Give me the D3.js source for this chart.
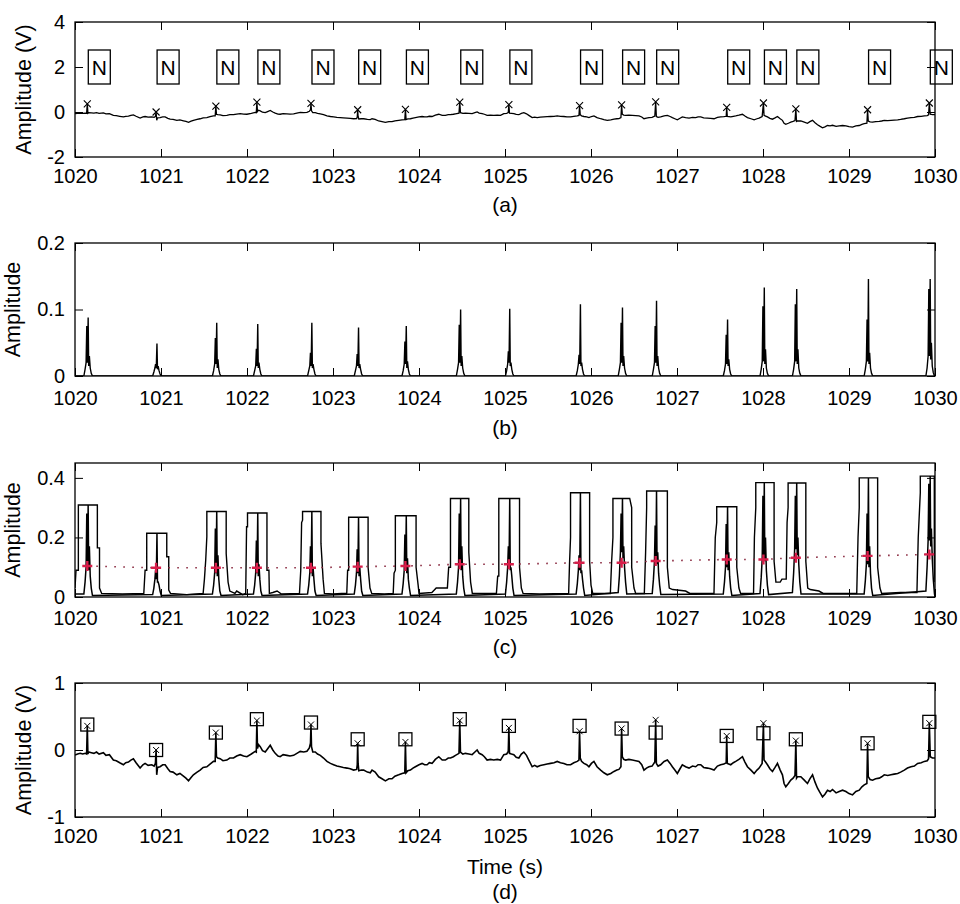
<!DOCTYPE html>
<html>
<head>
<meta charset="utf-8">
<script src="https://cdn.jsdelivr.net/npm/d3@7"></script>
<style>
  body { margin: 0; background: #fff; }
  svg { display: block; }
</style>
</head>
<body>
<svg id="chart" width="960" height="904"></svg>
<script>
// ---------- data ----------
const xTicks = [1020, 1021, 1022, 1023, 1024, 1025, 1026, 1027, 1028, 1029, 1030];
const yTicksA = [-2, 0, 2, 4];
const yTicksB = [0, 0.1, 0.2];
const yTicksC = [0, 0.2, 0.4];
const yTicksD = [-1, 0, 1];

// R-peak times (s) and beat annotations
const beatTimes = [1020.143, 1020.943, 1021.638, 1022.115, 1022.744, 1023.287, 1023.842, 1024.474,
  1025.045, 1025.867, 1026.356, 1026.752, 1027.578, 1028.005, 1028.382, 1029.216, 1029.934];
const beatLabels = ["N", "N", "N", "N", "N", "N", "N", "N", "N", "N", "N", "N", "N", "N", "N", "N", "N"];

// reference annotation amplitudes (V), panel (d) squares
const annotationValues = [0.38, 0.0, 0.26, 0.46, 0.41, 0.16, 0.16, 0.46, 0.36, 0.36, 0.32, 0.26,
  0.21, 0.25, 0.16, 0.10, 0.42];

// ECG samples [time s, amplitude V]
const ecgSamples = [
  [1020.000, -0.075], [1020.030, -0.06], [1020.060, -0.05], [1020.090, -0.06], [1020.120, -0.05],
  [1020.135, -0.06], [1020.143, 0.36], [1020.150, -0.06], [1020.160, -0.03], [1020.190, -0.04],
  [1020.220, -0.05], [1020.250, -0.03], [1020.280, -0.06], [1020.330, -0.04], [1020.360, -0.08],
  [1020.400, -0.07], [1020.446, -0.15], [1020.480, -0.16], [1020.520, -0.19], [1020.563, -0.22],
  [1020.590, -0.19], [1020.621, -0.18], [1020.650, -0.15], [1020.679, -0.13], [1020.710, -0.19],
  [1020.757, -0.27], [1020.790, -0.22], [1020.815, -0.20], [1020.850, -0.23], [1020.893, -0.22],
  [1020.920, -0.24], [1020.935, -0.20], [1020.943, 0.0], [1020.950, -0.37], [1020.960, -0.26],
  [1020.989, -0.25], [1021.020, -0.22], [1021.048, -0.22], [1021.080, -0.28], [1021.106, -0.32],
  [1021.140, -0.33], [1021.184, -0.37], [1021.220, -0.35], [1021.261, -0.39], [1021.290, -0.42],
  [1021.320, -0.46], [1021.350, -0.41], [1021.377, -0.37], [1021.420, -0.33], [1021.455, -0.30],
  [1021.490, -0.26], [1021.533, -0.25], [1021.570, -0.21], [1021.610, -0.17], [1021.630, -0.17],
  [1021.638, 0.26], [1021.645, -0.10], [1021.660, -0.12], [1021.688, -0.13], [1021.720, -0.16],
  [1021.766, -0.15], [1021.800, -0.12], [1021.843, -0.12], [1021.880, -0.09], [1021.921, -0.07],
  [1021.960, -0.09], [1021.999, -0.10], [1022.050, -0.06], [1022.095, -0.02], [1022.108, -0.03],
  [1022.115, 0.44], [1022.122, 0.02], [1022.135, 0.08], [1022.154, 0.05], [1022.180, -0.01],
  [1022.212, -0.03], [1022.240, 0.02], [1022.270, 0.07], [1022.300, 0.0], [1022.328, -0.05],
  [1022.360, -0.09], [1022.386, -0.10], [1022.420, -0.07], [1022.464, -0.08], [1022.500, -0.09],
  [1022.542, -0.08], [1022.580, -0.05], [1022.619, -0.02], [1022.660, -0.03], [1022.697, -0.02],
  [1022.725, 0.03], [1022.738, 0.10], [1022.744, 0.38], [1022.750, 0.05], [1022.765, -0.03],
  [1022.794, -0.03], [1022.820, -0.06], [1022.852, -0.08], [1022.890, -0.12], [1022.930, -0.17],
  [1022.970, -0.20], [1023.007, -0.22], [1023.045, -0.24], [1023.085, -0.25], [1023.120, -0.26],
  [1023.163, -0.27], [1023.200, -0.28], [1023.240, -0.30], [1023.275, -0.29], [1023.282, -0.22],
  [1023.287, 0.10], [1023.292, -0.20], [1023.300, -0.31], [1023.330, -0.30], [1023.357, -0.30],
  [1023.400, -0.33], [1023.434, -0.34], [1023.454, -0.30], [1023.490, -0.33], [1023.531, -0.40],
  [1023.570, -0.43], [1023.609, -0.46], [1023.650, -0.43], [1023.686, -0.43], [1023.720, -0.39],
  [1023.764, -0.37], [1023.803, -0.35], [1023.835, -0.34], [1023.842, 0.12], [1023.850, -0.34],
  [1023.870, -0.31], [1023.900, -0.30], [1023.930, -0.27], [1023.958, -0.25], [1024.000, -0.22],
  [1024.036, -0.20], [1024.065, -0.22], [1024.094, -0.22], [1024.120, -0.19], [1024.152, -0.20],
  [1024.190, -0.14], [1024.230, -0.10], [1024.270, -0.15], [1024.307, -0.15], [1024.340, -0.12],
  [1024.366, -0.12], [1024.400, -0.10], [1024.424, -0.08], [1024.465, -0.05], [1024.474, 0.44],
  [1024.482, -0.03], [1024.510, -0.06], [1024.540, -0.05], [1024.580, -0.06], [1024.618, -0.07],
  [1024.650, -0.03], [1024.676, 0.0], [1024.700, -0.05], [1024.734, -0.07], [1024.760, -0.10],
  [1024.792, -0.15], [1024.830, -0.14], [1024.870, -0.15], [1024.910, -0.14], [1024.948, -0.15],
  [1024.986, -0.07], [1025.020, -0.06], [1025.038, -0.02], [1025.045, 0.33], [1025.052, -0.05],
  [1025.075, -0.06], [1025.103, -0.07], [1025.130, -0.11], [1025.161, -0.12], [1025.190, -0.06],
  [1025.219, -0.03], [1025.250, -0.08], [1025.277, -0.15], [1025.316, -0.25], [1025.345, -0.23],
  [1025.374, -0.25], [1025.410, -0.23], [1025.452, -0.22], [1025.490, -0.21], [1025.530, -0.20],
  [1025.570, -0.19], [1025.607, -0.17], [1025.645, -0.19], [1025.685, -0.20], [1025.720, -0.22],
  [1025.763, -0.22], [1025.800, -0.19], [1025.840, -0.17], [1025.860, -0.15], [1025.867, 0.28],
  [1025.875, -0.12], [1025.890, -0.17], [1025.918, -0.20], [1025.950, -0.22], [1025.976, -0.25],
  [1026.005, -0.20], [1026.034, -0.17], [1026.070, -0.25], [1026.112, -0.30], [1026.150, -0.34],
  [1026.189, -0.37], [1026.230, -0.35], [1026.267, -0.32], [1026.300, -0.30], [1026.325, -0.29],
  [1026.348, -0.25], [1026.356, 0.32], [1026.364, -0.10], [1026.380, -0.14], [1026.403, -0.15],
  [1026.440, -0.14], [1026.480, -0.15], [1026.520, -0.16], [1026.558, -0.17], [1026.590, -0.22],
  [1026.616, -0.30], [1026.645, -0.27], [1026.674, -0.25], [1026.710, -0.24], [1026.742, -0.18],
  [1026.752, 0.45], [1026.760, -0.20], [1026.780, -0.24], [1026.810, -0.22], [1026.850, -0.17],
  [1026.888, -0.15], [1026.920, -0.20], [1026.946, -0.25], [1026.975, -0.30], [1027.004, -0.35],
  [1027.035, -0.28], [1027.062, -0.22], [1027.100, -0.25], [1027.140, -0.27], [1027.180, -0.24],
  [1027.217, -0.25], [1027.245, -0.22], [1027.276, -0.22], [1027.310, -0.26], [1027.353, -0.27],
  [1027.390, -0.28], [1027.431, -0.30], [1027.470, -0.24], [1027.508, -0.22], [1027.545, -0.21],
  [1027.572, -0.19], [1027.578, 0.21], [1027.585, -0.20], [1027.625, -0.22], [1027.655, -0.19],
  [1027.683, -0.17], [1027.720, -0.14], [1027.761, -0.10], [1027.790, -0.18], [1027.819, -0.25],
  [1027.860, -0.30], [1027.897, -0.35], [1027.930, -0.30], [1027.955, -0.27], [1027.990, -0.20],
  [1028.005, 0.40], [1028.012, -0.15], [1028.030, -0.18], [1028.052, -0.22], [1028.080, -0.28],
  [1028.110, -0.32], [1028.140, -0.26], [1028.168, -0.20], [1028.200, -0.30], [1028.226, -0.37],
  [1028.245, -0.50], [1028.265, -0.55], [1028.295, -0.50], [1028.323, -0.45], [1028.350, -0.42],
  [1028.372, -0.38], [1028.382, 0.14], [1028.390, -0.42], [1028.400, -0.40], [1028.440, -0.40],
  [1028.480, -0.45], [1028.517, -0.50], [1028.545, -0.43], [1028.576, -0.37], [1028.605, -0.48],
  [1028.634, -0.57], [1028.660, -0.63], [1028.692, -0.70], [1028.720, -0.66], [1028.750, -0.60],
  [1028.780, -0.62], [1028.808, -0.59], [1028.850, -0.64], [1028.886, -0.62], [1028.925, -0.60],
  [1028.964, -0.62], [1029.000, -0.65], [1029.041, -0.67], [1029.080, -0.62], [1029.119, -0.60],
  [1029.150, -0.55], [1029.177, -0.52], [1029.208, -0.50], [1029.216, 0.10], [1029.224, -0.40],
  [1029.245, -0.44], [1029.274, -0.45], [1029.310, -0.43], [1029.352, -0.42], [1029.380, -0.40],
  [1029.410, -0.37], [1029.450, -0.38], [1029.488, -0.37], [1029.525, -0.36], [1029.566, -0.35],
  [1029.600, -0.33], [1029.643, -0.30], [1029.680, -0.27], [1029.721, -0.25], [1029.760, -0.24],
  [1029.798, -0.20], [1029.840, -0.19], [1029.876, -0.17], [1029.910, -0.16], [1029.925, -0.13],
  [1029.934, 0.40], [1029.945, -0.10], [1029.970, -0.12], [1030.000, -0.12]
];

// sample offsets (s) of each QRS burst, relative to the R-peak time
const burstOffsets = [-0.040, -0.026, -0.014, -0.006, 0.002, 0.010, 0.016, 0.024, 0.034, 0.046, 0.060];

// panel (b): transformed signal, one burst per beat
const transformBursts = [
  [0, 0.010, 0.020, 0.075, 0.020, 0.088, 0.015, 0.030, 0.012, 0.004, 0],
  [0, 0.006, 0.012, 0.018, 0.012, 0.049, 0.010, 0.015, 0.008, 0.003, 0],
  [0, 0.008, 0.018, 0.057, 0.018, 0.080, 0.012, 0.025, 0.010, 0.003, 0],
  [0, 0.008, 0.015, 0.041, 0.015, 0.078, 0.012, 0.020, 0.010, 0.003, 0],
  [0, 0.008, 0.015, 0.035, 0.015, 0.080, 0.012, 0.018, 0.010, 0.003, 0],
  [0, 0.008, 0.015, 0.033, 0.015, 0.073, 0.012, 0.018, 0.010, 0.003, 0],
  [0, 0.008, 0.018, 0.052, 0.018, 0.075, 0.012, 0.022, 0.010, 0.003, 0],
  [0, 0.010, 0.020, 0.077, 0.020, 0.100, 0.015, 0.030, 0.012, 0.004, 0],
  [0, 0.008, 0.018, 0.037, 0.020, 0.101, 0.015, 0.020, 0.010, 0.003, 0],
  [0, 0.008, 0.018, 0.032, 0.018, 0.108, 0.015, 0.020, 0.010, 0.003, 0],
  [0, 0.010, 0.020, 0.080, 0.020, 0.103, 0.015, 0.030, 0.012, 0.004, 0],
  [0, 0.010, 0.020, 0.075, 0.020, 0.113, 0.015, 0.030, 0.012, 0.004, 0],
  [0, 0.008, 0.018, 0.062, 0.018, 0.085, 0.015, 0.025, 0.010, 0.003, 0],
  [0, 0.010, 0.022, 0.105, 0.022, 0.133, 0.018, 0.040, 0.012, 0.004, 0],
  [0, 0.010, 0.022, 0.108, 0.022, 0.131, 0.018, 0.040, 0.012, 0.004, 0],
  [0, 0.010, 0.022, 0.085, 0.022, 0.146, 0.018, 0.035, 0.012, 0.004, 0],
  [0, 0.012, 0.030, 0.131, 0.030, 0.146, 0.025, 0.050, 0.015, 0.005, 0]
];

// panel (c): feature signal bursts
const featureBursts = [
  [0.010, 0.050, 0.100, 0.280, 0.100, 0.309, 0.090, 0.170, 0.070, 0.030, 0.005],
  [0.008, 0.030, 0.060, 0.090, 0.060, 0.214, 0.050, 0.050, 0.040, 0.020, 0.005],
  [0.010, 0.040, 0.080, 0.230, 0.080, 0.287, 0.070, 0.140, 0.060, 0.020, 0.005],
  [0.010, 0.040, 0.080, 0.190, 0.080, 0.282, 0.070, 0.110, 0.060, 0.020, 0.005],
  [0.010, 0.040, 0.080, 0.170, 0.080, 0.287, 0.070, 0.100, 0.060, 0.020, 0.005],
  [0.010, 0.040, 0.080, 0.160, 0.080, 0.268, 0.070, 0.100, 0.060, 0.020, 0.005],
  [0.010, 0.045, 0.090, 0.210, 0.090, 0.273, 0.080, 0.130, 0.060, 0.030, 0.005],
  [0.010, 0.050, 0.100, 0.280, 0.100, 0.331, 0.090, 0.170, 0.070, 0.030, 0.005],
  [0.010, 0.050, 0.100, 0.170, 0.100, 0.331, 0.090, 0.100, 0.070, 0.030, 0.005],
  [0.010, 0.045, 0.090, 0.140, 0.090, 0.350, 0.080, 0.090, 0.060, 0.030, 0.005],
  [0.015, 0.070, 0.150, 0.280, 0.150, 0.331, 0.130, 0.170, 0.100, 0.050, 0.010],
  [0.012, 0.060, 0.120, 0.240, 0.120, 0.356, 0.110, 0.150, 0.080, 0.040, 0.008],
  [0.010, 0.050, 0.100, 0.245, 0.100, 0.303, 0.090, 0.150, 0.070, 0.030, 0.005],
  [0.012, 0.065, 0.130, 0.340, 0.130, 0.384, 0.120, 0.200, 0.090, 0.040, 0.008],
  [0.015, 0.080, 0.160, 0.340, 0.160, 0.383, 0.140, 0.200, 0.110, 0.050, 0.010],
  [0.010, 0.055, 0.110, 0.280, 0.110, 0.400, 0.100, 0.170, 0.080, 0.030, 0.005],
  [0.020, 0.100, 0.190, 0.380, 0.190, 0.406, 0.170, 0.230, 0.130, 0.060, 0.010]
];

// panel (c): windowed maximum envelope [time s, amplitude]
const envelopeSamples = [
  [1020.000, 0.030], [1020.012, 0.090], [1020.039, 0.090], [1020.039, 0.309], [1020.260, 0.309],
  [1020.260, 0.165], [1020.285, 0.165], [1020.285, 0.030], [1020.310, 0.012], [1020.550, 0.010],
  [1020.800, 0.012], [1020.815, 0.090], [1020.834, 0.090], [1020.834, 0.214], [1021.067, 0.214],
  [1021.067, 0.135], [1021.090, 0.135], [1021.090, 0.023], [1021.110, 0.012], [1021.300, 0.008],
  [1021.490, 0.012], [1021.505, 0.060], [1021.520, 0.124], [1021.533, 0.202], [1021.533, 0.287],
  [1021.758, 0.287], [1021.758, 0.146], [1021.780, 0.050], [1021.800, 0.020], [1021.860, 0.012],
  [1021.880, 0.020], [1021.950, 0.008], [1021.985, 0.012], [1021.995, 0.236], [1022.006, 0.236],
  [1022.006, 0.282], [1022.232, 0.282], [1022.232, 0.090], [1022.255, 0.090], [1022.260, 0.012],
  [1022.300, 0.015], [1022.350, 0.020], [1022.400, 0.010], [1022.610, 0.012], [1022.625, 0.090],
  [1022.635, 0.250], [1022.646, 0.258], [1022.646, 0.287], [1022.860, 0.287], [1022.860, 0.180],
  [1022.885, 0.060], [1022.900, 0.012], [1023.000, 0.010], [1023.100, 0.012], [1023.160, 0.012],
  [1023.170, 0.090], [1023.182, 0.090], [1023.182, 0.268], [1023.408, 0.268], [1023.408, 0.100],
  [1023.430, 0.030], [1023.450, 0.012], [1023.600, 0.010], [1023.700, 0.012], [1023.710, 0.080],
  [1023.725, 0.090], [1023.725, 0.273], [1023.966, 0.273], [1023.966, 0.100], [1023.990, 0.040],
  [1024.000, 0.012], [1024.150, 0.015], [1024.200, 0.030], [1024.330, 0.030], [1024.345, 0.100],
  [1024.366, 0.100], [1024.366, 0.331], [1024.579, 0.331], [1024.579, 0.150], [1024.600, 0.050],
  [1024.620, 0.012], [1024.900, 0.012], [1024.915, 0.070], [1024.928, 0.070], [1024.928, 0.331],
  [1025.169, 0.331], [1025.169, 0.100], [1025.190, 0.030], [1025.210, 0.012], [1025.400, 0.010],
  [1025.740, 0.012], [1025.750, 0.110], [1025.762, 0.200], [1025.762, 0.350], [1025.984, 0.350],
  [1025.984, 0.120], [1026.000, 0.040], [1026.020, 0.012], [1026.225, 0.012], [1026.240, 0.120],
  [1026.255, 0.200], [1026.255, 0.331], [1026.450, 0.331], [1026.473, 0.300], [1026.473, 0.100],
  [1026.500, 0.030], [1026.520, 0.012], [1026.620, 0.012], [1026.635, 0.150], [1026.647, 0.300],
  [1026.647, 0.356], [1026.888, 0.356], [1026.888, 0.100], [1026.910, 0.030], [1026.950, 0.025],
  [1027.100, 0.020], [1027.150, 0.012], [1027.430, 0.012], [1027.445, 0.200], [1027.462, 0.250],
  [1027.462, 0.303], [1027.695, 0.303], [1027.695, 0.100], [1027.720, 0.030], [1027.740, 0.012],
  [1027.890, 0.012], [1027.900, 0.200], [1027.916, 0.300], [1027.916, 0.384], [1028.129, 0.384],
  [1028.129, 0.120], [1028.150, 0.050], [1028.200, 0.050], [1028.220, 0.060], [1028.270, 0.060],
  [1028.280, 0.250], [1028.292, 0.300], [1028.292, 0.383], [1028.498, 0.383], [1028.498, 0.120],
  [1028.520, 0.030], [1028.550, 0.025], [1028.650, 0.020], [1028.700, 0.012], [1029.090, 0.012],
  [1029.105, 0.200], [1029.119, 0.300], [1029.119, 0.400], [1029.333, 0.400], [1029.333, 0.100],
  [1029.360, 0.030], [1029.380, 0.012], [1029.600, 0.015], [1029.790, 0.015], [1029.805, 0.200],
  [1029.829, 0.350], [1029.829, 0.406], [1029.992, 0.406], [1029.992, 0.120], [1030.000, 0.050]
];

// panel (c): adaptive detection threshold at each beat
const thresholdValues = [0.104, 0.098, 0.098, 0.098, 0.098, 0.102, 0.104, 0.110, 0.110, 0.115,
  0.115, 0.121, 0.126, 0.126, 0.132, 0.138, 0.143];

// ---------- layout ----------
const W = 960, H = 904;
const left = 75, right = 935;
const FONT = "'Liberation Sans', Arial, Helvetica, sans-serif";
const TICK = 8;

const panels = [
  { top: 22,  bottom: 157, domain: [-2, 4],   ticks: yTicksA, ylabel: "Amplitude (V)", labelX: 31,
    xPad: 12, capOffsets: [55], captions: ["(a)"] },
  { top: 243, bottom: 376, domain: [0, 0.2],  ticks: yTicksB, ylabel: "Amplitude",     labelX: 20,
    xPad: 14.5, capOffsets: [58.5], captions: ["(b)"] },
  { top: 463, bottom: 597, domain: [0, 0.45], ticks: yTicksC, ylabel: "Amplitude",     labelX: 20,
    xPad: 13.5, capOffsets: [56.5], captions: ["(c)"] },
  { top: 683, bottom: 817, domain: [-1, 1],   ticks: yTicksD, ylabel: "Amplitude (V)", labelX: 31,
    xPad: 12, capOffsets: [56.5, 82], captions: ["Time (s)", "(d)"] }
];

const svg = d3.select("#chart");
svg.append("rect").attr("width", W).attr("height", H).attr("fill", "#fff");

const x = d3.scaleLinear().domain([1020, 1030]).range([left, right]);

function makeY(p) {
  return d3.scaleLinear().domain(p.domain).range([p.bottom, p.top]);
}

function clipFor(p, id) {
  svg.append("clipPath").attr("id", id)
    .append("rect").attr("x", left).attr("y", p.top)
    .attr("width", right - left).attr("height", p.bottom - p.top);
  return `url(#${id})`;
}

function styleAxis(sel, showText) {
  sel.select(".domain").remove();
  sel.attr("font-family", FONT).attr("font-size", 20);
  sel.selectAll("line").attr("stroke", "#000").attr("stroke-width", 1);
  sel.selectAll("text").attr("fill", "#000");
  if (!showText) sel.selectAll("text").remove();
}

function drawFrame(p, y) {
  const g = svg.append("g");
  g.append("g").attr("transform", `translate(0,${p.bottom})`)
    .call(d3.axisBottom(x).tickValues(xTicks).tickSize(-TICK).tickPadding(p.xPad).tickFormat(d => String(d)))
    .call(s => styleAxis(s, true));
  g.append("g").attr("transform", `translate(0,${p.top})`)
    .call(d3.axisTop(x).tickValues(xTicks).tickSize(-TICK))
    .call(s => styleAxis(s, false));
  g.append("g").attr("transform", `translate(${left},0)`)
    .call(d3.axisLeft(y).tickValues(p.ticks).tickSize(-TICK).tickPadding(10).tickFormat(d => String(d)))
    .call(s => styleAxis(s, true));
  g.append("g").attr("transform", `translate(${right},0)`)
    .call(d3.axisRight(y).tickValues(p.ticks).tickSize(-TICK))
    .call(s => styleAxis(s, false));
  g.append("rect").attr("x", left).attr("y", p.top)
    .attr("width", right - left).attr("height", p.bottom - p.top)
    .attr("fill", "none").attr("stroke", "#000").attr("stroke-width", 1.3);

  g.append("text")
    .attr("transform", `translate(${p.labelX},${(p.top + p.bottom) / 2}) rotate(-90)`)
    .attr("text-anchor", "middle").attr("font-family", FONT).attr("font-size", 21.5)
    .text(p.ylabel);

  p.captions.forEach((c, i) => {
    g.append("text").attr("x", (left + right) / 2).attr("y", p.bottom + p.capOffsets[i])
      .attr("text-anchor", "middle").attr("font-family", FONT).attr("font-size", 21)
      .text(c);
  });
}

function burstPoints(bursts) {
  const pts = [[1020, bursts[0][0]]];
  beatTimes.forEach((t, i) => {
    burstOffsets.forEach((o, k) => pts.push([t + o, bursts[i][k]]));
  });
  pts.push([1030, 0]);
  return pts;
}

// R-peak amplitude of each beat, taken from the ECG samples near the beat time
const ecgPeaks = beatTimes.map(t => {
  const near = ecgSamples.filter(s => Math.abs(s[0] - t) < 0.02);
  return d3.max(near, s => s[1]);
});

function drawX(g, cx, cy, r, w) {
  g.append("path")
    .attr("d", `M${cx - r},${cy - r}L${cx + r},${cy + r}M${cx - r},${cy + r}L${cx + r},${cy - r}`)
    .attr("stroke", "#000").attr("stroke-width", w).attr("fill", "none");
}

// ---------- panel (a): ECG with beat labels ----------
{
  const p = panels[0], y = makeY(p);
  const clip = clipFor(p, "clipA");
  const line = d3.line().x(d => x(d[0])).y(d => y(d[1]));
  svg.append("path").datum(ecgSamples).attr("d", line).attr("clip-path", clip)
    .attr("fill", "none").attr("stroke", "#000").attr("stroke-width", 1.3);
  const mk = svg.append("g");
  beatTimes.forEach((t, i) => drawX(mk, x(t), y(ecgPeaks[i]), 3.5, 1.1));
  const lab = svg.append("g");
  beatTimes.forEach((t, i) => {
    const bx = x(t) + 1, by = y(2);
    lab.append("rect").attr("x", bx).attr("y", by - 17).attr("width", 22).attr("height", 34)
      .attr("fill", "none").attr("stroke", "#000").attr("stroke-width", 1.3);
    lab.append("text").attr("x", bx + 11).attr("y", by + 7.5).attr("text-anchor", "middle")
      .attr("font-family", FONT).attr("font-size", 21).text(beatLabels[i]);
  });
  drawFrame(p, y);
}

// ---------- panel (b): transformed signal ----------
{
  const p = panels[1], y = makeY(p);
  const clip = clipFor(p, "clipB");
  const line = d3.line().x(d => x(d[0])).y(d => y(d[1]));
  svg.append("path").datum(burstPoints(transformBursts)).attr("d", line).attr("clip-path", clip)
    .attr("fill", "none").attr("stroke", "#000").attr("stroke-width", 1.4);
  drawFrame(p, y);
}

// ---------- panel (c): feature signal, envelope and threshold ----------
{
  const p = panels[2], y = makeY(p);
  const clip = clipFor(p, "clipC");
  const line = d3.line().x(d => x(d[0])).y(d => y(d[1]));
  svg.append("path").datum(burstPoints(featureBursts)).attr("d", line).attr("clip-path", clip)
    .attr("fill", "none").attr("stroke", "#000").attr("stroke-width", 1.5);
  svg.append("path").datum(envelopeSamples).attr("d", line).attr("clip-path", clip)
    .attr("fill", "none").attr("stroke", "#000").attr("stroke-width", 1.4);
  const thr = beatTimes.map((t, i) => [t, thresholdValues[i]]);
  thr.push([1030, thresholdValues[thresholdValues.length - 1]]);
  svg.append("path").datum(thr).attr("d", line).attr("clip-path", clip)
    .attr("fill", "none").attr("stroke", "#8a2a40").attr("stroke-width", 1.6)
    .attr("stroke-dasharray", "1.6,7.4");
  const mk = svg.append("g");
  beatTimes.forEach((t, i) => {
    const cx = x(t), cy = y(thresholdValues[i]);
    mk.append("path").attr("d", `M${cx - 5},${cy}L${cx + 5},${cy}M${cx},${cy - 5}L${cx},${cy + 5}`)
      .attr("stroke", "#d81e4a").attr("stroke-width", 2.4).attr("fill", "none");
  });
  drawFrame(p, y);
}

// ---------- panel (d): ECG with annotations and detections ----------
{
  const p = panels[3], y = makeY(p);
  const clip = clipFor(p, "clipD");
  const line = d3.line().x(d => x(d[0])).y(d => y(d[1]));
  svg.append("path").datum(ecgSamples).attr("d", line).attr("clip-path", clip)
    .attr("fill", "none").attr("stroke", "#000").attr("stroke-width", 1.6);
  const mk = svg.append("g");
  beatTimes.forEach((t, i) => {
    const cx = x(t), cy = y(annotationValues[i]);
    mk.append("rect").attr("x", cx - 6.5).attr("y", cy - 6.5).attr("width", 13).attr("height", 13)
      .attr("fill", "none").attr("stroke", "#000").attr("stroke-width", 1.3);
    drawX(mk, x(t), y(ecgPeaks[i]), 3, 1);
  });
  drawFrame(p, y);
}
</script>
</body>
</html>
